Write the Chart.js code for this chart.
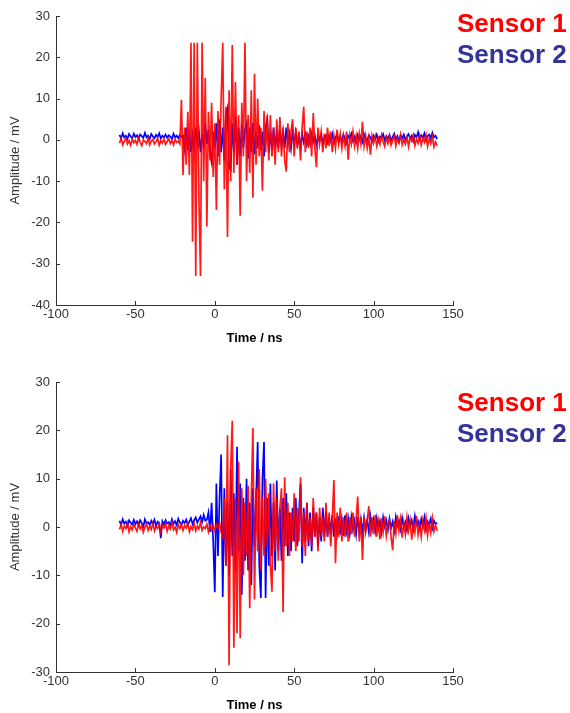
<!DOCTYPE html>
<html>
<head>
<meta charset="utf-8">
<script src="https://cdn.jsdelivr.net/npm/chart.js@4.4.1/dist/chart.umd.min.js"></script>
<style>
  body { margin: 0; background: #fff; width: 570px; height: 713px; position: relative; overflow: hidden; }
  canvas { position: absolute; left: 0; }
  #top { top: 0; }
  #bottom { top: 356px; }
  .lbl { position: absolute; left: 457px; font: bold 26px "Liberation Sans", Arial, sans-serif; line-height: 31px; white-space: nowrap; }
  .s1 { color: #ff0000; }
  .s2 { color: #333399; }
</style>
</head>
<body>
<canvas id="top" width="570" height="356"></canvas>
<canvas id="bottom" width="570" height="357"></canvas>
<div class="lbl s1" style="top:8px">Sensor 1</div>
<div class="lbl s2" style="top:39px">Sensor 2</div>
<div class="lbl s1" style="top:387px">Sensor 1</div>
<div class="lbl s2" style="top:418px">Sensor 2</div>
<script>
// sample times: -60 ns .. 140 ns, one sample per ns
var tStart = -60;
var tStep = 1;

// top panel, sensor 1 (red), rows of 10 samples starting at -60, -50, ...
var sensor1Top = [
  -0.8, 0.4, -1.2, -0.3, 0.3, -1.0, -0.2, -1.3, 0.2, -0.7,
  -0.1, -1.1, 0.5, -0.6, -1.4, 0.0, -0.4, -0.9, 0.3, -1.2,
  -0.3, 0.1, -1.0, -0.5, 0.4, -1.3, -0.2, -0.8, 0.2, -1.1,
  -0.4, 0.3, -0.9, -0.2, -1.2, 0.1, -0.6, -0.3, -1.0, 9.7,
  -8.5, 3.0, -6.0, 6.8, -8.5, 23.5, -24.7, 23.5, -33, 23.5,
  -14, -33, 23.5, -10, 15, -21, 6.8, -5, 9, -9,
  4, -17, 7, -6, 10, 23.5, -12, 8, -23.5, 12,
  -10, 23, -8, 14, -6, 6, -18.4, 9, -4, 23.5,
  -10, 6, -8, 12, -14, 16, -6, 10, -4, 3,
  -12.3, 7, -3, 6, -5, 6, -4, 3, -6, 5,
  -3, 5.5, -4, 3, -5, -7.7, 4, -3, 2, 5,
  -4, 3, -2, 2, -5, 3, 8, -3, 2, -2,
  3, -4, 6.5, -2, -6.6, 3, -1, 2, -3, 1.5,
  -2, 3, -1.5, 2, -3, 1, -2, 2.5, -1, 1.5,
  -2, 1, -1.5, 2, -4.8, 1, -1, 2, -1.5, 1,
  -2, 1.5, -1, 4.4, -1.5, 1, -2, 0.5, -3.6, 1,
  -0.8, 0.9, -1.5, 0.3, -1.1, 1.2, -0.4, -1.6, 0.6, -0.9,
  0.8, -1.3, -0.2, 1.0, -1.5, 0.4, -0.7, 1.3, -1.2, 0.1,
  -1.0, 0.7, -1.6, 0.5, -0.3, 1.1, -1.4, 0.2, -0.8, 1.0,
  -1.2, 0.4, -0.6, 1.2, -1.5, 0.3, -0.9, 0.8, -1.7, -0.5,
  -1.4
];

// top panel, sensor 2 (blue)
var sensor2Top = [
  1.2, 0.3, 1.6, 0.6, 1.0, 0.2, 1.4, 0.8, 0.4, 1.5,
  0.7, 1.1, 0.3, 1.3, 0.9, 0.5, 1.7, 0.6, 1.0, 0.2,
  1.4, 0.8, 0.4, 1.2, 0.7, 1.6, 0.3, 1.0, 0.6, 1.3,
  0.5, 1.1, 0.8, 0.2, 1.5, 0.6, 1.0, 0.4, 1.2, 0.7,
  1, -2, 3, -2.5, 2.5, -3, 1, -2, 3, -1,
  2, -3, 1.5, -2, 4, -1, 2.5, -3, -5.3, 2,
  -2, 4, -4, 5, -3, 3, -5, 6, 7.7, -6.8,
  -7.3, 4, -3, 5.5, -6, 3, -4, 4, -2, 2.5,
  4, -4.5, 3, -3, 4, -3.5, 2, -2, 3.5, -2.5,
  2, -4, 3, 5, -3, 2, -2.5, 3, -2, 1.5,
  -2, 2.5, -1.5, 2, -2, 3, -1, 1.5, -2, 2,
  -1, 1.8, -1.2, 0.9, -1.5, 1.4, -0.6, 1.2, -1.1, 0.8,
  -0.9, 1.5, -0.4, 1.0, -1.3, 0.7, -0.2, 1.3, -0.8, 0.5,
  1.1, -0.6, 0.9, -0.3, 1.4, -0.7, 0.6, 1.2, -0.5, 0.8,
  -0.4, 1.3, 0.2, -0.8, 1.0, 0.4, 1.5, -0.3, 0.7, -0.6,
  1.2, 0.1, 0.9, -0.5, 1.4, 0.3, -0.2, 1.1, 0.6, -0.4,
  1.0, 0.2, 1.3, -0.3, 0.8, 0.5, 1.4, -0.1, 0.9, 0.3,
  1.2, -0.2, 0.7, 1.5, 0.1, 0.9, -0.4, 1.1, 0.4, 1.3,
  0.0, 0.8, 1.4, 0.3, 1.0, -0.3, 1.2, 0.6, 1.9, 0.2,
  1.1, 0.5, 1.6, -0.1, 0.9, 1.3, 0.4, 1.7, 0.6, 1.0,
  0.2
];

// bottom panel, sensor 1 (red)
var sensor1Bottom = [
  -0.5, 0.6, -0.9, 0.2, -0.3, 0.8, -1.0, 0.1, -0.6, 0.5,
  -0.2, -0.9, 0.7, -0.4, 0.3, -1.1, 0.0, 0.6, -0.7, 0.2,
  -0.5, 0.8, -0.8, 0.1, -0.3, 0.6, -1.0, 0.4, -0.2, 0.7,
  -0.9, 0.2, -0.4, 0.9, -0.6, 0.0, -1.1, 0.5, -0.3, 0.6,
  -0.7, 0.3, -0.2, 0.8, -1.0, 0.1, -0.5, 0.7, -0.8, 0.2,
  -0.4, 0.9, -0.7, 0.0, -0.3, 0.6, -1.0, 0.4, -0.6, 0.3,
  -0.8, 0.5, -0.2, 0.9, -1.1, -2, 6, -8, 19, -28.6,
  12, 22, -25, 6, -22, 13.5, -23, 8, -10, 5,
  -6, 8.5, -16.8, 6, 20.5, -15, 8, -5, 12, -9,
  6, -6, 10, -4, 7, -8, -13.4, 9, -5, 6,
  -7, 4, 8, -17.6, 10.3, -4, 5, -6, 3, -3,
  7, -5, 4, -3, 10.3, -4, 3, -6, 5, -3,
  2, -4, 6, -2, 3, -5, 4, -2, 2, -3,
  5, -2, 3, -4, 2, 9.7, -7.5, 3, -2, 4,
  -3, 2, -2, 3, -3, 2, -1.5, 3, -2, 1.5,
  6.3, -3, 2, -6.8, 2, -1, 1.5, 4.3, -2, 2,
  -1.5, 2.5, -2, 1, -2.5, 1.8, -1, 2.2, -1.8, 0.6,
  1.5, -2, -4.8, 1.2, -1.3, 2.4, -0.8, 1.6, -2.2, 0.9,
  -1.4, 2.0, -0.7, 1.3, -2.6, 0.8, -1.1, 2.3, -1.6, 0.5,
  -2.0, 1.4, -0.6, 1.9, -1.7, 0.7, -1.2, 1.8, -0.9, 0.4,
  -0.8
];

// bottom panel, sensor 2 (blue)
var sensor2Bottom = [
  1.3, 0.4, 1.6, 0.7, 1.1, 0.2, 1.4, 0.9, 0.5, 1.5,
  0.6, 1.2, 0.3, 1.4, 0.8, 0.1, 1.6, 0.7, 1.0, 0.4,
  1.3, 0.6, 1.5, 0.2, 1.1, 0.8, -2.3, 1.2, 0.5, 1.4,
  0.7, 1.0, 0.3, 1.6, 0.6, 1.2, 0.4, 1.7, 0.9, 0.5,
  1.3, 0.8, 1.5, 0.4, 1.1, 1.8, 0.6, 1.4, 2.0, 0.9,
  1.6, 2.2, 1.0, 2.5, 1.3, 1.5, 3, -1, 5, -3,
  -13.5, 9, -6, 6, 15, -14.5, 8, -8, 5, -10,
  12, -6, 7, -9, 16.6, -5, 9, -14, 6, -7,
  10, -9, 5, -12, 8, -4, 6, 17.6, -8, -14.7,
  10, 17.6, -14.7, 6, -8, 9, -6, 5, -9, 9.6,
  -5, 4, -7, 6, -4, 7, -6, 3, -5, 4,
  -3, 6, -4, 3, 9, -7.5, 4, -3, 5, -4,
  3, -5, 4, -2, 3, -4, 2, -3, 4, -2,
  3, -2, 2, -1.5, 2.5, -2, 1.8, -1.2, 2.2, -1.6,
  1.5, -1.8, 2.4, -0.8, 1.7, -1.4, 2.0, -0.5, 1.3, -1.5,
  2.1, -0.9, 1.6, -1.2, 1.9, -0.6, 1.4, -1.0, 2.2, -0.4,
  1.5, -0.9, 1.8, -0.3, 1.2, -1.1, 2.0, 0.1, 1.4, -0.6,
  1.7, -0.2, 1.1, -0.8, 2.1, 0.3, 1.3, -0.5, 1.9, 0.0,
  1.0, -0.7, 1.8, 0.2, 1.4, -0.4, 2.3, 0.5, 1.2, -0.3,
  1.6, 0.1, 2.0, -0.6, 1.1, 0.4, 1.7, -0.2, 1.3, 0.6,
  0.9
];

var xMin = -100, xMax = 150, xStep = 50;
var topRange = [-40, 30];
var bottomRange = [-30, 30];
var yStep = 10;

var axisColor = '#333333';
var font = '"Liberation Sans", Arial, sans-serif';

var toPoints = (vals) => vals.map((v, i) => ({ x: tStart + i * tStep, y: v }));

// matlab style ticks pointing into the plot
var innerTicks = {
  id: 'innerTicks',
  afterDatasetsDraw(chart) {
    var ctx = chart.ctx, area = chart.chartArea;
    var xs = chart.scales.x, ys = chart.scales.y;
    ctx.save();
    ctx.strokeStyle = axisColor;
    ctx.lineWidth = 1;
    ctx.beginPath();
    xs.ticks.forEach(t => {
      var px = Math.round(xs.getPixelForValue(t.value)) + 0.5;
      ctx.moveTo(px, area.bottom);
      ctx.lineTo(px, area.bottom - 4);
    });
    ys.ticks.forEach(t => {
      var py = Math.round(ys.getPixelForValue(t.value)) + 0.5;
      ctx.moveTo(area.left, py);
      ctx.lineTo(area.left + 4, py);
    });
    ctx.stroke();
    ctx.restore();
  }
};

function makeChart(id, red, blue, range, padTop, xHeight, titlePad) {
  return new Chart(document.getElementById(id), {
    type: 'line',
    data: {
      datasets: [
        { data: toPoints(red), borderColor: 'rgba(255,0,0,0.9)', borderWidth: 1.7, pointRadius: 0, tension: 0 },
        { data: toPoints(blue), borderColor: '#0000ff', borderWidth: 1.7, pointRadius: 0, tension: 0 }
      ]
    },
    options: {
      responsive: false,
      animation: false,
      layout: { padding: { left: 0, right: 117, top: padTop, bottom: 0 } },
      plugins: { legend: { display: false }, tooltip: { enabled: false } },
      scales: {
        x: {
          type: 'linear',
          min: xMin, max: xMax,
          afterFit: (s) => { s.height = xHeight; },
          grid: { display: false, drawTicks: false },
          border: { display: true, color: axisColor, width: 1 },
          ticks: { stepSize: xStep, padding: 2, color: axisColor, font: { family: font, size: 13 } },
          title: { display: true, text: 'Time / ns', color: '#000', padding: { bottom: titlePad, top: 0 }, font: { family: font, size: 13, weight: 'bold' } }
        },
        y: {
          min: range[0], max: range[1],
          afterFit: (s) => { s.width = 56; },
          grid: { display: false, drawTicks: false },
          border: { display: true, color: axisColor, width: 1 },
          ticks: { stepSize: yStep, padding: 6, color: axisColor, font: { family: font, size: 13 } },
          title: { display: true, text: 'Amplitude / mV', color: axisColor, padding: { top: 8, bottom: 0 }, font: { family: font, size: 13 } }
        }
      }
    },
    plugins: [innerTicks]
  });
}

var topChart = makeChart('top', sensor1Top, sensor2Top, topRange, 16, 51, 10);
var bottomChart = makeChart('bottom', sensor1Bottom, sensor2Bottom, bottomRange, 26, 41, 0);
</script>
</body>
</html>
